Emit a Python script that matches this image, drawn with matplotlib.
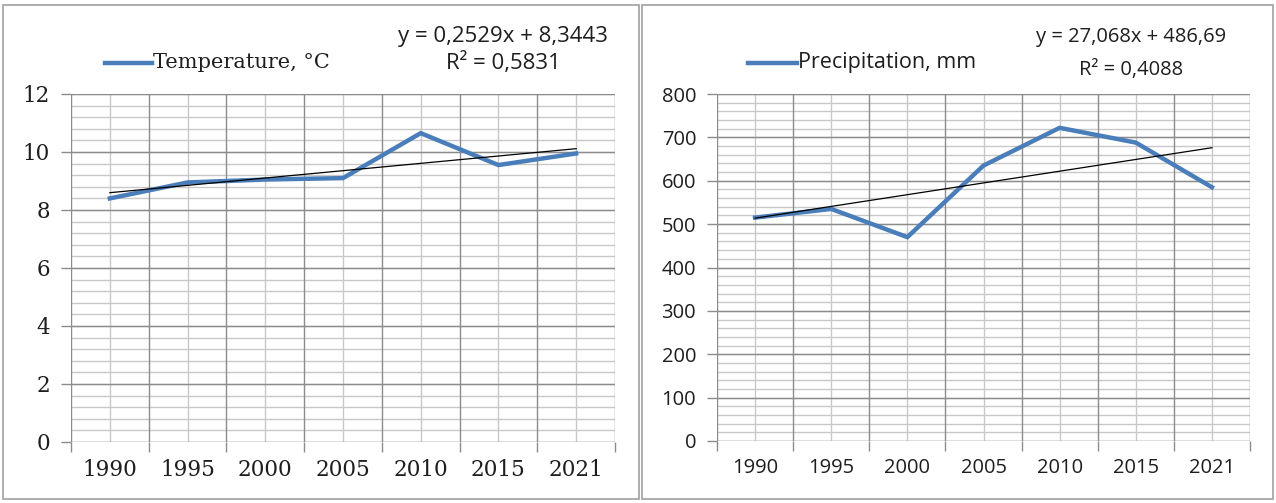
import numpy as np
import matplotlib
matplotlib.use("Agg")
import matplotlib.pyplot as plt
from matplotlib.patches import Rectangle
from matplotlib.ticker import MultipleLocator, FixedLocator

years = ["1990", "1995", "2000", "2005", "2010", "2015", "2021"]
temperature = [8.4, 8.95, 9.05, 9.1, 10.65, 9.55, 9.95]
precipitation = [515, 535, 470, 635, 722, 688, 585]

temp_coef = (0.2529, 8.3443)
prec_coef = (27.068, 486.69)
temp_eq = ["y = 0,2529x + 8,3443", "R² = 0,5831"]
prec_eq = ["y = 27,068x + 486,69", "R² = 0,4088"]

BLUE = "#4A7EBB"
MAJ = "#8C8C8C"
MIN = "#C8C8C8"
TXT = "#1E1E1E"

W, H = 1276, 503
fig = plt.figure(figsize=(W / 100, H / 100), dpi=100)
fig.patch.set_facecolor("white")

# panel frames
for x0, x1 in [(3, 639), (642, 1273)]:
    fig.add_artist(Rectangle((x0 / W, 1 - 499 / H), (x1 - x0) / W, 494 / H,
                             transform=fig.transFigure, fill=False,
                             edgecolor="#A0A0A0", linewidth=1.2))


def panel(rect, values, coef, ymax, ymaj, ymin, label, eq, eq_xy, leg_xy,
          tick_font, tick_size, leg_font, leg_size, eq_size):
    ax = fig.add_axes(rect)
    n = len(values)
    x = np.arange(n)
    ax.set_xlim(-0.5, n - 0.5)
    ax.set_ylim(0, ymax)

    # grid: darker at category edges / major values, lighter in between
    for b in np.arange(-0.5, n, 1.0):
        ax.axvline(b, color=MAJ, lw=1.0, zorder=1)
    for c in x:
        ax.axvline(c, color=MIN, lw=1.0, zorder=0.9)
    for v in np.arange(0, ymax + 1e-9, ymin):
        ax.axhline(v, color=MIN, lw=1.0, zorder=0.9)
    for v in np.arange(0, ymax + 1e-9, ymaj):
        ax.axhline(v, color=MAJ, lw=1.0, zorder=1)

    ax.plot(x, values, color=BLUE, lw=3.2, solid_joinstyle="miter", zorder=3)
    xt = np.array([0, n - 1])
    ax.plot(xt, coef[0] * (xt + 1) + coef[1], color="black", lw=0.9, zorder=4)

    for s in ax.spines.values():
        s.set_visible(False)

    ax.xaxis.set_major_locator(FixedLocator(np.arange(-0.5, n, 1.0)))
    ax.xaxis.set_minor_locator(FixedLocator(x))
    ax.set_xticklabels([], minor=False)
    ax.set_xticklabels(years, minor=True, fontsize=tick_size, family=tick_font, color=TXT)
    ax.tick_params(axis="x", which="major", length=7, width=1, color=MAJ, direction="out")
    ax.tick_params(axis="x", which="minor", length=0, pad=12)

    ax.yaxis.set_major_locator(MultipleLocator(ymaj))
    ax.tick_params(axis="y", which="major", length=7, width=1, color=MAJ, pad=8)
    for t in ax.get_yticklabels():
        t.set_fontsize(tick_size)
        t.set_family(tick_font)
        t.set_color(TXT)

    # legend
    lx, ly = leg_xy
    fig.add_artist(plt.Line2D([lx[0] / W, lx[1] / W], [1 - ly / H] * 2, color=BLUE, lw=3.2,
                              transform=fig.transFigure))
    fig.text((lx[1] + 1) / W, 1 - ly / H, label, fontsize=leg_size, family=leg_font,
             va="center", ha="left", color=TXT)
    ex, ey1, ey2 = eq_xy
    fig.text(ex / W, 1 - ey1 / H, eq[0], fontsize=eq_size, family="Open Sans", va="center", ha="center", color=TXT)
    fig.text(ex / W, 1 - ey2 / H, eq[1], fontsize=eq_size, family="Open Sans", va="center", ha="center", color=TXT)
    return ax


panel([71 / W, 1 - 442 / H, 544 / W, 348 / H], temperature, temp_coef, 12, 2, 0.4,
      "Temperature, °C", temp_eq, (503, 37, 63), ((105, 152), 63),
      "DejaVu Serif", 15.5, "DejaVu Serif", 15, 16)
panel([717 / W, 1 - 441 / H, 533 / W, 347 / H], precipitation, prec_coef, 800, 100, 20,
      "Precipitation, mm", prec_eq, (1131, 37, 70), ((748, 797), 63),
      "Open Sans", 14.5, "Open Sans", 15.5, 14.5)

fig.savefig("out.png", dpi=100, facecolor="white")
